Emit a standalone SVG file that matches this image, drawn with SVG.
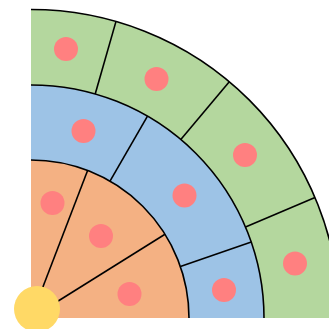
<svg xmlns="http://www.w3.org/2000/svg" width="329" height="329" viewBox="0 0 329 329">
<style>
.arc{fill:none;stroke:#000;stroke-width:1.6}
.sp{stroke:#000;stroke-width:1.6;fill:none}
.dot{fill:#FF8080}
</style>
<rect width="329" height="329" fill="#fff"/>
<g id="ring-outer">
<path d="M264,318 L339.5,318 A308.5,308.5 0 0 0 31,9.5 L31,85 A233,233 0 0 1 264,318 Z" fill="#B4D79E"/>
</g>
<g id="ring-middle">
<path d="M189,318 L264,318 A233,233 0 0 0 31,85 L31,160 A158,158 0 0 1 189,318 Z" fill="#9DC3E6"/>
</g>
<g id="ring-inner">
<path d="M31,318 L189,318 A158,158 0 0 0 31,160 Z" fill="#F4B183"/>
</g>
<g id="arcs">
<path class="arc" d="M339.5,318 A308.5,308.5 0 0 0 31,9.5"/>
<path class="arc" d="M264,318 A233,233 0 0 0 31,85"/>
<path class="arc" d="M189,318 A158,158 0 0 0 31,160"/>
</g>
<g id="connectors">
<line class="sp" x1="31" y1="318" x2="87.6" y2="170.5"/>
<line class="sp" x1="31" y1="318" x2="165" y2="234.3"/>
<line class="sp" x1="110" y1="181.2" x2="147.5" y2="116.2"/>
<line class="sp" x1="180.4" y1="266.6" x2="251.3" y2="242.1"/>
<line class="sp" x1="95.2" y1="94" x2="116" y2="21.4"/>
<line class="sp" x1="180.8" y1="139.5" x2="229.3" y2="81.7"/>
<line class="sp" x1="245.5" y1="227" x2="315" y2="197.5"/>
</g>
<g id="dots">
<circle class="dot" cx="66" cy="49" r="12"/>
<circle class="dot" cx="156.5" cy="79" r="12"/>
<circle class="dot" cx="245" cy="155" r="12"/>
<circle class="dot" cx="295" cy="263.5" r="12"/>
<circle class="dot" cx="83.5" cy="131" r="12"/>
<circle class="dot" cx="184.5" cy="195.5" r="12"/>
<circle class="dot" cx="224" cy="290" r="12"/>
<circle class="dot" cx="52.5" cy="203" r="12"/>
<circle class="dot" cx="101" cy="236" r="12"/>
<circle class="dot" cx="129.5" cy="294" r="12"/>
</g>
<g id="hub">
<circle cx="37" cy="309" r="23" fill="#FFD966"/>
</g>
</svg>
